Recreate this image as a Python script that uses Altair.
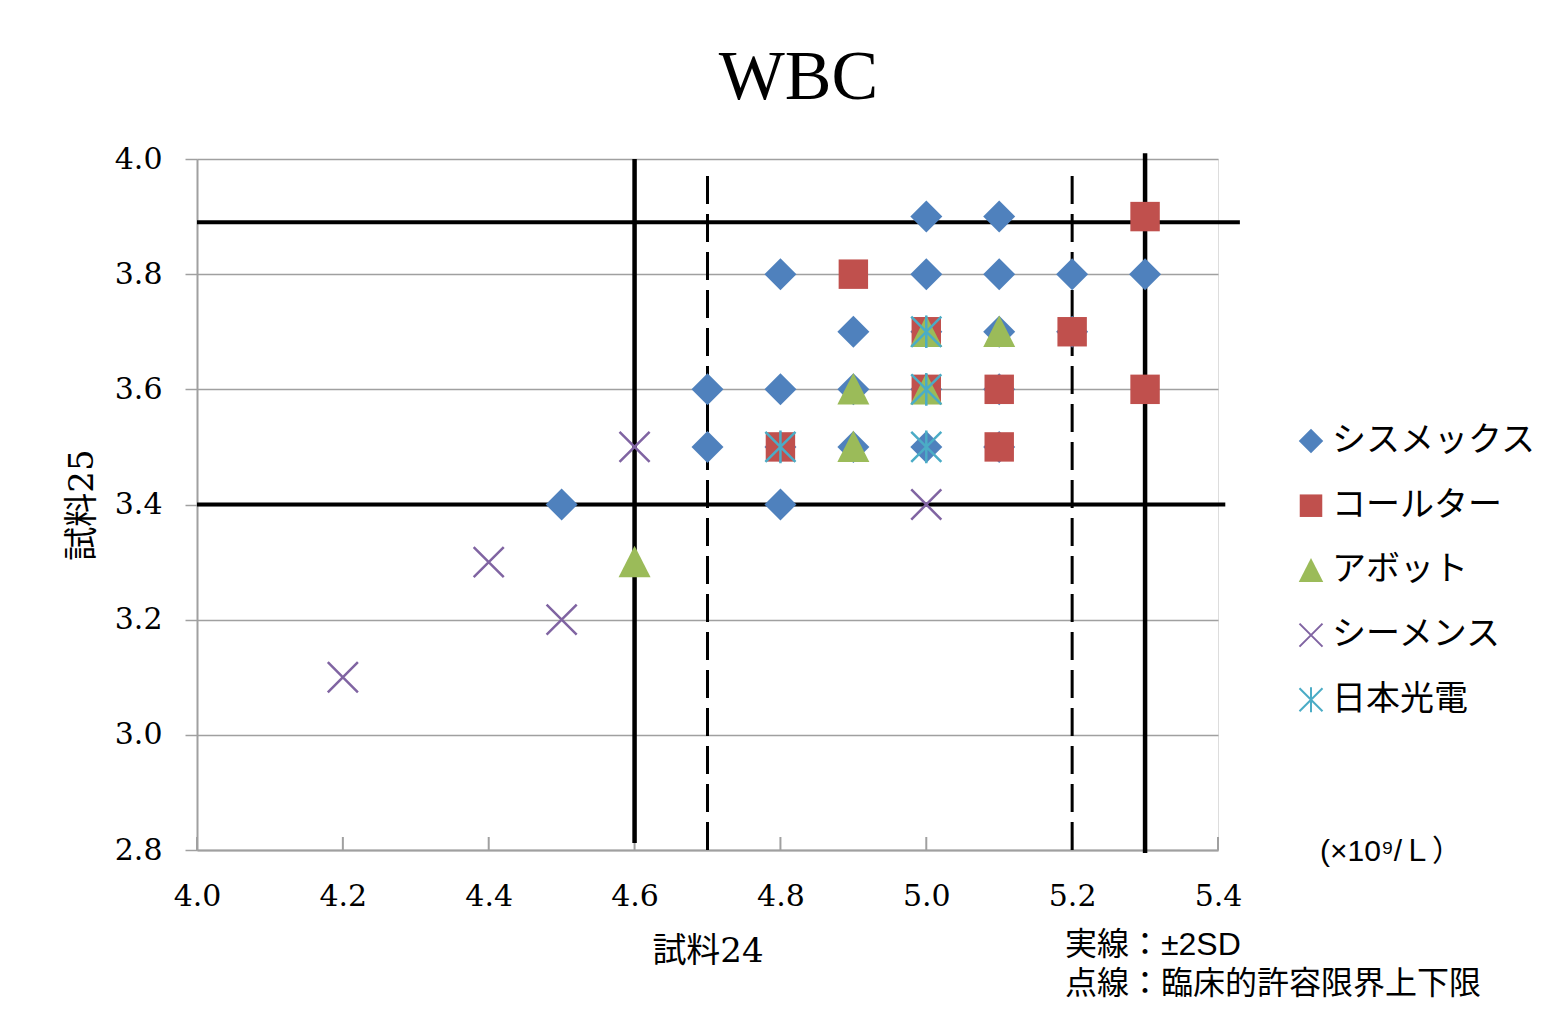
import altair as alt
import pandas as pd

# ---- data ----
series_names = ["シスメックス", "コールター", "アボット", "シーメンス", "日本光電"]

sysmex_x = [5.0, 5.1, 4.8, 5.0, 5.1, 5.2, 5.3, 4.9, 5.0, 5.1, 5.2, 4.7, 4.8, 4.9, 5.0, 5.1, 4.7, 4.8, 4.9, 5.0, 5.1, 4.5, 4.8]
sysmex_y = [3.9, 3.9, 3.8, 3.8, 3.8, 3.8, 3.8, 3.7, 3.7, 3.7, 3.7, 3.6, 3.6, 3.6, 3.6, 3.6, 3.5, 3.5, 3.5, 3.5, 3.5, 3.4, 3.4]
coulter_x = [5.3, 4.9, 5.0, 5.2, 5.0, 5.1, 5.3, 4.8, 5.1]
coulter_y = [3.9, 3.8, 3.7, 3.7, 3.6, 3.6, 3.6, 3.5, 3.5]
abbott_x = [5.0, 5.1, 4.9, 5.0, 4.9, 4.6]
abbott_y = [3.7, 3.7, 3.6, 3.6, 3.5, 3.3]
siemens_x = [4.6, 5.0, 4.4, 4.5, 4.2]
siemens_y = [3.5, 3.4, 3.3, 3.2, 3.1]
nihon_x = [5.0, 5.0, 4.8, 5.0]
nihon_y = [3.7, 3.6, 3.5, 3.5]

x_ticks = [4.0, 4.2, 4.4, 4.6, 4.8, 5.0, 5.2, 5.4]
y_ticks = [2.8, 3.0, 3.2, 3.4, 3.6, 3.8, 4.0]

# reference lines (solid = ±2SD, dashed = clinical limits)
vline_x = [4.6, 5.3, 4.7, 5.2]
vline_y1 = [2.812, 2.795, 2.8, 2.8]
vline_y2 = [4.0, 4.01, 3.977, 3.977]
vline_kind = ["solid", "solid", "dashed", "dashed"]
hline_y = [3.89, 3.40]
hline_x1 = [4.0, 4.0]
hline_x2 = [5.43, 5.41]

# ---- styling ----
fill_colors = ["#4F81BD", "#C0504D", "#9BBB59", "transparent", "transparent"]
stroke_colors = ["transparent", "transparent", "transparent", "#8064A2", "#4BACC6"]
shapes = [
    "M-1,0L0,-1L1,0L0,1Z",
    "M-0.92,-0.92L0.92,-0.92L0.92,0.92L-0.92,0.92Z",
    "M0,-1.02L1,0.95L-1,0.95Z",
    "M-0.94,-0.94L0.94,0.94M-0.94,0.94L0.94,-0.94",
    "M-0.94,-0.94L0.94,0.94M-0.94,0.94L0.94,-0.94M0,-1.02L0,1.02",
]

rows = []
for name, xs, ys in zip(series_names,
                        [sysmex_x, coulter_x, abbott_x, siemens_x, nihon_x],
                        [sysmex_y, coulter_y, abbott_y, siemens_y, nihon_y]):
    for xv, yv in zip(xs, ys):
        rows.append({"series": name, "x": xv, "y": yv})
points_df = pd.DataFrame(rows)

vlines_df = pd.DataFrame({"x": vline_x, "y1": vline_y1, "y2": vline_y2, "kind": vline_kind})
hlines_df = pd.DataFrame({"y": hline_y, "x1": hline_x1, "x2": hline_x2})
xticks_df = pd.DataFrame({"x": x_ticks})

W, H = 1021, 691
GRAY = "#a0a0a0"
SERIF = "DejaVu Serif"
MIXED = "DejaVu Serif, Noto Sans CJK JP"
SANS_JP = "Liberation Sans, Noto Sans CJK JP"

xscale = alt.Scale(domain=[4.0, 5.4], nice=False, zero=False)
yscale = alt.Scale(domain=[2.8, 4.0], nice=False, zero=False)

x_axis = alt.Axis(values=x_ticks, format=".1f", grid=False, ticks=False,
                  labelFont=SERIF, labelFontSize=30, labelColor="black", labelFlush=False,
                  labelPadding=31, domainColor=GRAY, domainWidth=2,
                  title="試料24", titleFont=MIXED, titleFontSize=34,
                  titleFontWeight="normal", titleColor="black", titlePadding=23)
y_axis = alt.Axis(values=y_ticks, format=".1f", grid=True, gridColor=GRAY, gridWidth=1.5,
                  tickSize=12, tickColor=GRAY, tickWidth=1.5, labelFlush=False,
                  labelFont=SERIF, labelFontSize=30, labelColor="black",
                  labelPadding=23, domainColor=GRAY, domainWidth=2,
                  title="試料25", titleFont=MIXED, titleFontSize=34,
                  titleFontWeight="normal", titleColor="black", titlePadding=15)

base_axes = alt.Chart(xticks_df).mark_rule(color=GRAY, strokeWidth=2).encode(
    x=alt.X("x:Q", scale=xscale, axis=x_axis),
    y=alt.value(H),
    y2=alt.value(H - 13),
)

# invisible layer to set y axis
y_layer = alt.Chart(hlines_df).mark_point(opacity=0).encode(
    x=alt.X("x1:Q", scale=xscale),
    y=alt.Y("y:Q", scale=yscale, axis=y_axis),
)

vsolid = alt.Chart(vlines_df).transform_filter(alt.datum.kind == "solid").mark_rule(
    color="black", strokeWidth=4.5, clip=False).encode(
    x=alt.X("x:Q", scale=xscale),
    y=alt.Y("y1:Q", scale=yscale),
    y2="y2:Q",
)
vdash = alt.Chart(vlines_df).transform_filter(alt.datum.kind == "dashed").mark_rule(
    color="black", strokeWidth=3, strokeDash=[28, 10], clip=False).encode(
    x=alt.X("x:Q", scale=xscale),
    y=alt.Y("y1:Q", scale=yscale),
    y2="y2:Q",
)
hsolid = alt.Chart(hlines_df).mark_rule(color="black", strokeWidth=4, clip=False).encode(
    y=alt.Y("y:Q", scale=yscale),
    x=alt.X("x1:Q", scale=xscale),
    x2="x2:Q",
)

legend = alt.Legend(title=None, orient="none", legendX=1097, legendY=265,
                    symbolSize=600, symbolStrokeWidth=2,
                    labelFont="Noto Sans CJK JP", labelFontSize=34, labelColor="black",
                    labelLimit=400, labelOffset=4, rowPadding=30.7, padding=0)

pts = alt.Chart(points_df).mark_point(size=1024, strokeWidth=2.5, opacity=1).encode(
    x=alt.X("x:Q", scale=xscale),
    y=alt.Y("y:Q", scale=yscale),
    fill=alt.Fill("series:N", scale=alt.Scale(domain=series_names, range=fill_colors), legend=legend),
    stroke=alt.Stroke("series:N", scale=alt.Scale(domain=series_names, range=stroke_colors), legend=legend),
    shape=alt.Shape("series:N", scale=alt.Scale(domain=series_names, range=shapes), legend=legend),
)

unit_df = pd.DataFrame({"t": ["(×10⁹/Ｌ）"]})
unit_txt = alt.Chart(unit_df).mark_text(align="left", baseline="middle", font=SANS_JP,
                                        fontSize=30, color="black").encode(
    x=alt.value(1123), y=alt.value(693), text="t:N")

note_df = pd.DataFrame({"t": ["実線：±2SD\n点線：臨床的許容限界上下限"]})
note_txt = alt.Chart(note_df).mark_text(align="left", baseline="middle", font=SANS_JP,
                                        fontSize=32, color="black", lineBreak="\n",
                                        lineHeight=39).encode(
    x=alt.value(868), y=alt.value(786), text="t:N")

chart = alt.layer(base_axes, y_layer, vsolid, vdash, hsolid, pts, unit_txt, note_txt).properties(
    width=W, height=H,
    title=alt.TitleParams(text="WBC", font="Liberation Serif", fontSize=70,
                          fontWeight="normal", color="black", anchor="middle",
                          frame="group", dx=91, offset=30),
    autosize=alt.AutoSizeParams(type="none"),
    padding={"left": 189, "top": 151, "right": 340, "bottom": 162},
).configure_view(strokeWidth=0).configure(background="white")

chart.save("out.html", embed_options={"renderer": "svg", "actions": False})
